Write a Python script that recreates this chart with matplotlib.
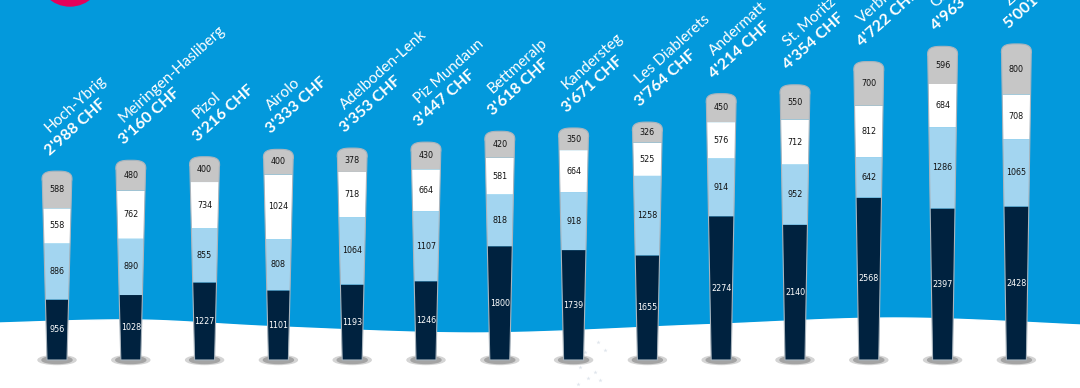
import numpy as np
import matplotlib.pyplot as plt
from matplotlib.patches import Polygon, Ellipse

# data: cost breakdown per resort (bottom -> top)
resorts = ['Hoch-Ybrig', 'Meiringen-Hasliberg', 'Pizol', 'Airolo', 'Adelboden-Lenk',
           'Piz Mundaun', 'Bettmeralp', 'Kandersteg', 'Les Diablerets', 'Andermatt',
           'St. Moritz', 'Verbier', 'Gstaad', 'Zermatt']
totals = ["2'988", "3'160", "3'216", "3'333", "3'353", "3'447", "3'618",
          "3'671", "3'764", "4'214", "4'354", "4'722", "4'963", "5'001"]
dark = [956, 1028, 1227, 1101, 1193, 1246, 1800, 1739, 1655, 2274, 2140, 2568, 2397, 2428]
light = [886, 890, 855, 808, 1064, 1107, 818, 918, 1258, 914, 952, 642, 1286, 1065]
white = [558, 762, 734, 1024, 718, 664, 581, 664, 525, 576, 712, 812, 684, 708]
grey = [588, 480, 400, 400, 378, 430, 420, 350, 326, 450, 550, 700, 596, 800]

seg_colors = ['#00223f', '#a3d5f0', '#ffffff', '#c6c6c6']
num_colors = ['white', '#111111', '#111111', '#111111']
bg = '#0399dc'

fig = plt.figure(figsize=(10.8, 3.88), dpi=100)
fig.patch.set_facecolor(bg)
ax = fig.add_axes([0, 0, 1, 1])
ax.set_facecolor(bg)
x0, x1 = -0.7724, 13.862
y0, y1 = -443, 5696
ax.set_xlim(x0, x1)
ax.set_ylim(y0, y1)
ax.axis('off')

# size of one pixel in data units
px = (x1 - x0) / 1080
py = (y1 - y0) / 388


def ypix(v):
    return (360 - v) * py


# pink circle top left
ax.add_patch(Ellipse((70 * px + x0, ypix(-26)), 64 * px, 64 * py,
                     color='#e5005a', zorder=1))

# snow hill
pts = [(-20, 324), (0, 323), (138, 320), (280, 327), (482, 333), (700, 325),
       (895, 318), (1080, 325), (1100, 326)]
xs, ys = [], []
for k in range(1, len(pts) - 2):
    p0, p1, p2, p3 = [np.array(p, float) for p in pts[k - 1:k + 3]]
    for t in np.linspace(0, 1, 20):
        q = 0.5 * ((2 * p1) + (-p0 + p2) * t + (2 * p0 - 5 * p1 + 4 * p2 - p3) * t ** 2
                   + (-p0 + 3 * p1 - 3 * p2 + p3) * t ** 3)
        xs.append(q[0] * px + x0)
        ys.append(ypix(q[1]))
snow = list(zip(xs, ys)) + [(x1, y0), (x0, y0)]
ax.add_patch(Polygon(snow, closed=True, color='white', zorder=2))

# footprints in the snow
fx = [575, 585, 590, 580, 598, 605, 595, 588, 578, 600]
fy = [345, 352, 360, 367, 342, 350, 372, 378, 384, 380]
ax.scatter([v * px + x0 for v in fx], [ypix(v) for v in fy], marker='*', s=10,
           color='#dfe5ec', zorder=2, linewidths=0)

top_w = 30 * px
bot_w = 20 * px
cap_h = 9 * py

for i in range(len(resorts)):
    vals = [dark[i], light[i], white[i], grey[i]]
    total = sum(vals)
    c = i

    def hw(y):
        return (bot_w + (top_w - bot_w) * y / total) / 2

    # shadow
    ax.add_patch(Ellipse((c, 0), 38 * px, 9 * py, color='#d4d4d4', zorder=3))
    ax.add_patch(Ellipse((c, 0), 30 * px, 7 * py, color='#a4a4a4', zorder=3))

    base = 0
    outline = None
    for j, v in enumerate(vals):
        top = base + v
        if j < 3:
            poly = [(c - hw(base), base), (c + hw(base), base),
                    (c + hw(top), top), (c - hw(top), top)]
        else:
            ys_ = top - cap_h
            t = np.linspace(np.pi, 0, 40)
            n = 3.0
            a = hw(total)
            cx = c + a * np.sign(np.cos(t)) * np.abs(np.cos(t)) ** (2 / n)
            cy = ys_ + cap_h * np.abs(np.sin(t)) ** (2 / n)
            poly = ([(c + hw(base), base), (c - hw(base), base), (c - hw(ys_), ys_)]
                    + list(zip(cx, cy)) + [(c + hw(ys_), ys_)])
            outline = ([(c + hw(0), 0), (c - hw(0), 0), (c - hw(ys_), ys_)]
                       + list(zip(cx, cy)) + [(c + hw(ys_), ys_)])
        ax.add_patch(Polygon(poly, closed=True, facecolor=seg_colors[j],
                             edgecolor='none', zorder=4))
        ax.text(c, base + v / 2, str(v), ha='center', va='center', fontsize=5.8,
                color=num_colors[j], family='DejaVu Sans', zorder=6)
        base = top
    ax.add_patch(Polygon(outline, closed=True, facecolor='none',
                         edgecolor='#a9b4bd', lw=0.8, zorder=5))

    # rotated labels above each bar
    ax.annotate(resorts[i], (c, total), xytext=(-7, 38), textcoords='offset pixels',
                rotation=42, rotation_mode='anchor', ha='left', va='baseline',
                fontsize=11, color='white', family='Lato', fontweight='normal',
                annotation_clip=False, zorder=7)
    ax.annotate(totals[i] + ' CHF', (c, total), xytext=(-7, 15),
                textcoords='offset pixels', rotation=42, rotation_mode='anchor',
                ha='left', va='baseline', fontsize=11.5, color='white',
                family='Lato', fontweight='bold', annotation_clip=False, zorder=7)

fig.savefig('out.png', dpi=100, facecolor=bg)
